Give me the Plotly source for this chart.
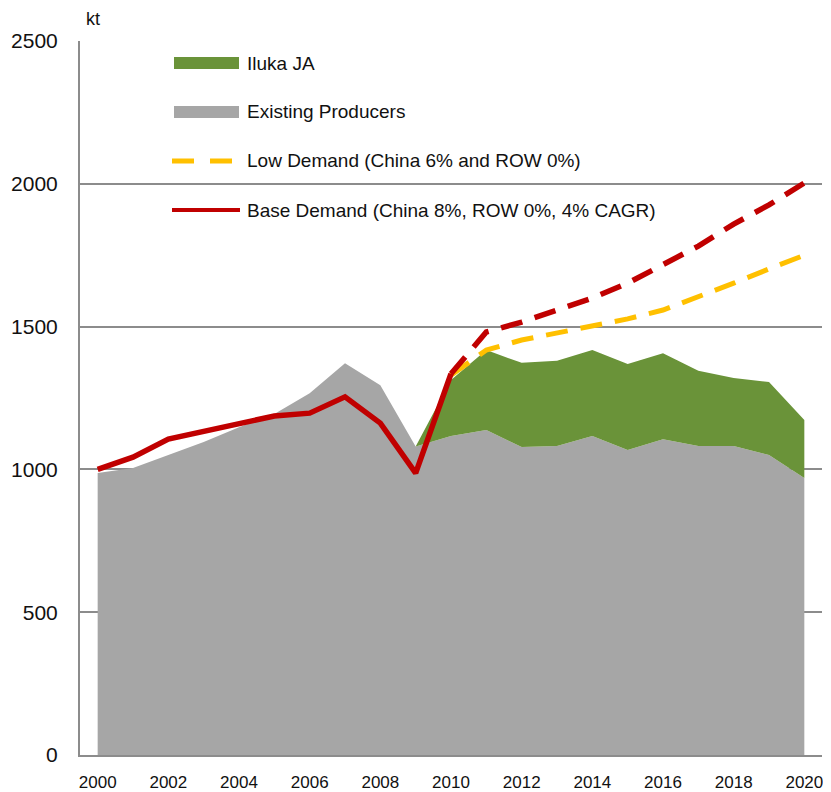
import plotly.graph_objects as go

years = list(range(2000, 2021))
existing_producers = [987, 1005, 1050, 1096, 1148, 1194, 1267, 1372, 1295, 1080,
                      1117, 1138, 1078, 1082, 1117, 1068, 1106, 1082, 1082, 1050, 970]
iluka_years = list(range(2009, 2021))
iluka_ja = [0, 196, 280, 295, 298, 301, 301, 301, 263, 238, 256, 203]
base_demand = [1000, 1043, 1106, 1134, 1162, 1187, 1197, 1254, 1162, 987,
               1335, 1481, 1516, 1558, 1600, 1652, 1716, 1782, 1859, 1926, 2003]
low_years = list(range(2010, 2021))
low_demand = [1330, 1418, 1453, 1478, 1502, 1527, 1558, 1604, 1652, 1702, 1750]
split_year = 2010
y_ticks = [0, 500, 1000, 1500, 2000, 2500]
x_ticks = list(range(2000, 2021, 2))

GREEN = "#6A9339"
GRAY = "#A6A6A6"
RED = "#C00000"
YELLOW = "#FFC000"
GRID = "#8C8C8C"
FONT = "Liberation Sans, Arial, sans-serif"

fig = go.Figure()
fig.add_trace(go.Scatter(x=years, y=existing_producers, stackgroup="supply",
                         mode="lines", line=dict(width=0, color=GRAY),
                         fillcolor=GRAY, name="Existing Producers"))
fig.add_trace(go.Scatter(x=iluka_years, y=iluka_ja, stackgroup="supply",
                         mode="lines", line=dict(width=0, color=GREEN),
                         fillcolor=GREEN, name="Iluka JA"))
fig.add_trace(go.Scatter(x=low_years, y=low_demand, mode="lines",
                         line=dict(color=YELLOW, width=5, dash="22px,13px"),
                         name="Low Demand (China 6% and ROW 0%)"))
si = years.index(split_year)
fig.add_trace(go.Scatter(x=years[:si + 1], y=base_demand[:si + 1], mode="lines",
                         line=dict(color=RED, width=5.5),
                         name="Base Demand (China 8%, ROW 0%, 4% CAGR)"))
fig.add_trace(go.Scatter(x=years[si:], y=base_demand[si:], mode="lines",
                         line=dict(color=RED, width=5.5, dash="22px,13px"),
                         showlegend=False))

# page has an 8px body margin; plot area target (page px): x 80..822, y 41..755
OFF = 8
L, R_, T, B = 80, 822, 41, 755
def px(x):
    return (x - L) / (R_ - L)
def py(y):
    return (B - y) / (B - T)

shapes = [
    dict(type="rect", xref="paper", yref="paper", x0=px(174), x1=px(239),
         y0=py(69), y1=py(57), fillcolor=GREEN, line=dict(width=0)),
    dict(type="rect", xref="paper", yref="paper", x0=px(174), x1=px(239),
         y0=py(118), y1=py(106), fillcolor=GRAY, line=dict(width=0)),
    dict(type="line", xref="paper", yref="paper", x0=px(172), x1=px(240),
         y0=py(161), y1=py(161), line=dict(color=YELLOW, width=5, dash="22px,16px")),
    dict(type="line", xref="paper", yref="paper", x0=px(172), x1=px(240),
         y0=py(210), y1=py(210), line=dict(color=RED, width=4)),
]
legend_texts = ["Iluka JA", "Existing Producers", "Low Demand (China 6% and ROW 0%)",
                "Base Demand (China 8%, ROW 0%, 4% CAGR)"]
legend_y = [63, 112, 161, 210]
annotations = [dict(xref="paper", yref="paper", x=px(245), y=py(yy), text=t,
                    showarrow=False, xanchor="left", yanchor="middle",
                    font=dict(family=FONT, size=19, color="#111"))
               for t, yy in zip(legend_texts, legend_y)]
annotations.append(dict(xref="paper", yref="paper", x=px(84), y=py(19), text="kt",
                        showarrow=False, xanchor="left", yanchor="middle",
                        font=dict(family=FONT, size=18, color="#111")))

fig.update_layout(
    width=831 - OFF, height=792 - OFF,
    margin=dict(l=L - OFF, r=831 - R_, t=T - OFF, b=792 - B, autoexpand=False),
    paper_bgcolor="white", plot_bgcolor="white",
    showlegend=False,
    shapes=shapes, annotations=annotations,
    font=dict(family=FONT, color="#111"),
    xaxis=dict(range=[1999.5, 2020.5], tickvals=x_ticks, ticks="",
               showgrid=False, zeroline=False, showline=True, linecolor=GRID,
               linewidth=2, tickfont=dict(size=17), ticklabelstandoff=11,
               automargin=False),
    yaxis=dict(range=[0, 2500], tickvals=y_ticks, ticks="",
               showgrid=True, gridcolor=GRID, gridwidth=1.5, zeroline=False,
               showline=True, linecolor=GRID, linewidth=2,
               tickfont=dict(size=21), ticklabelstandoff=16, automargin=False),
)

fig.write_html("out.html")
